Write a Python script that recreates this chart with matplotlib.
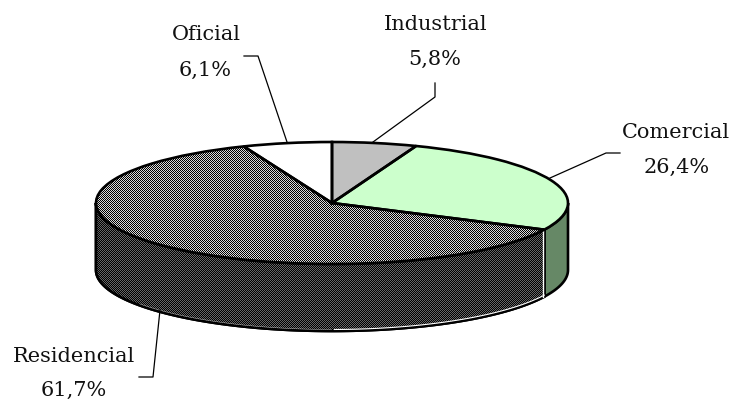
import numpy as np
from matplotlib import pyplot as plt
from matplotlib.patches import PathPatch

labels = ["Industrial", "Comercial", "Residencial", "Oficial"]
shares = [5.8, 26.4, 61.7, 6.1]
value_text = ["5,8%", "26,4%", "61,7%", "6,1%"]

W, H = 732, 401
CX, CY, RX, RY = 332, 203, 236, 61
DEPTH = 67 / RY

plt.rcParams['font.family'] = ['DejaVu Serif']

fig = plt.figure(figsize=(W / 100, H / 100), dpi=100)
ax = fig.add_axes([0, 0, 1, 1])

# one pie unit is RX pixels across and RY pixels down
xlim = (-CX / RX, (W - CX) / RX)
ylim = ((CY - H) / RY, CY / RY)


def checker(light, dark):
    yy, xx = np.indices((H, W))
    return np.where((xx + yy) % 2 == 0, light, dark)


top_colors = ["#c0c0c0", "#ccffcc", "#8c8c8c", "#ffffff"]
wedges, _ = ax.pie(shares, startangle=90, counterclock=False, colors=top_colors,
                   wedgeprops=dict(linewidth=0, zorder=5))
ax.set_aspect("auto")
ax.set_xlim(xlim)
ax.set_ylim(ylim)
ax.axis("off")

# side wall, only the part of each slice on the front half shows
ends = np.cumsum(shares) / 100 * 2 * np.pi
starts = ends - np.array(shares) / 100 * 2 * np.pi
side_colors = ["#606060", "#668866", "#3c3c3c", "#ffffff"]
for a, b, col in zip(starts, ends, side_colors):
    a, b = max(a, np.pi / 2), min(b, 3 * np.pi / 2)
    if a >= b:
        continue
    t = np.linspace(a, b, 200)
    x = np.sin(t)
    y = np.cos(t)
    poly = ax.fill(np.r_[x, x[::-1]], np.r_[y, y[::-1] - DEPTH], color=col,
                   ec="black", lw=1.9, zorder=2)[0]
    if col == "#3c3c3c":
        # dithered fill like the old office export
        im = ax.imshow(checker(0.4, 0.0), cmap="gray", vmin=0, vmax=1, extent=(*xlim, *ylim),
                       aspect="auto", interpolation="none", zorder=3)
        im.set_clip_path(poly)
        ax.fill(np.r_[x, x[::-1]], np.r_[y, y[::-1] - DEPTH], fc="none", ec="black", lw=1.9, zorder=4)
        # white hairline along the lower right of the wall, fainter further left
        keep = t < np.pi
        ax.plot(x[keep], y[keep] - DEPTH + 0.025, color="white", lw=0.8, zorder=4.5)
        rest = (t >= np.pi) & (t < np.radians(235))
        ax.plot(x[rest], y[rest] - DEPTH + 0.025, color="white", lw=0.4, alpha=0.6, zorder=4.5)
        ax.plot([x[0] - 0.006, x[0] - 0.006], [y[0], y[0] - DEPTH], color="white", lw=1, zorder=4.5)

im = ax.imshow(checker(0.0, 0.85), cmap="gray", vmin=0, vmax=1, extent=(*xlim, *ylim),
               aspect="auto", interpolation="none", zorder=6)
im.set_clip_path(wedges[2])
ax.set_xlim(xlim)
ax.set_ylim(ylim)
for w in wedges:
    ax.add_patch(PathPatch(w.get_path(), transform=w.get_transform(), fc="none",
                           ec="black", lw=1.9, zorder=7))

# labels and leader lines in pixel space
over = fig.add_axes([0, 0, 1, 1])
over.set_xlim(0, W)
over.set_ylim(H, 0)
over.axis("off")

label_xy = [(436, 24), (676, 133), (74, 357), (206, 35)]
value_xy = [(435, 59), (677, 167), (74, 390), (205, 70)]
leaders = [
    [(435, 83), (435, 97), (373, 142)],
    [(620, 153), (606, 153), (550, 178)],
    [(139, 377), (153, 377), (160, 310)],
    [(244, 56), (258, 56), (287, 142)],
]
for name, val, p, q, line in zip(labels, value_text, label_xy, value_xy, leaders):
    over.text(p[0], p[1], name, ha="center", va="center", fontsize=15, color="#111111")
    over.text(q[0], q[1], val, ha="center", va="center", fontsize=15, color="#111111")
    xs, ys = zip(*line)
    over.plot(xs, ys, color="black", lw=0.9)

fig.savefig("out.png", dpi=100)
